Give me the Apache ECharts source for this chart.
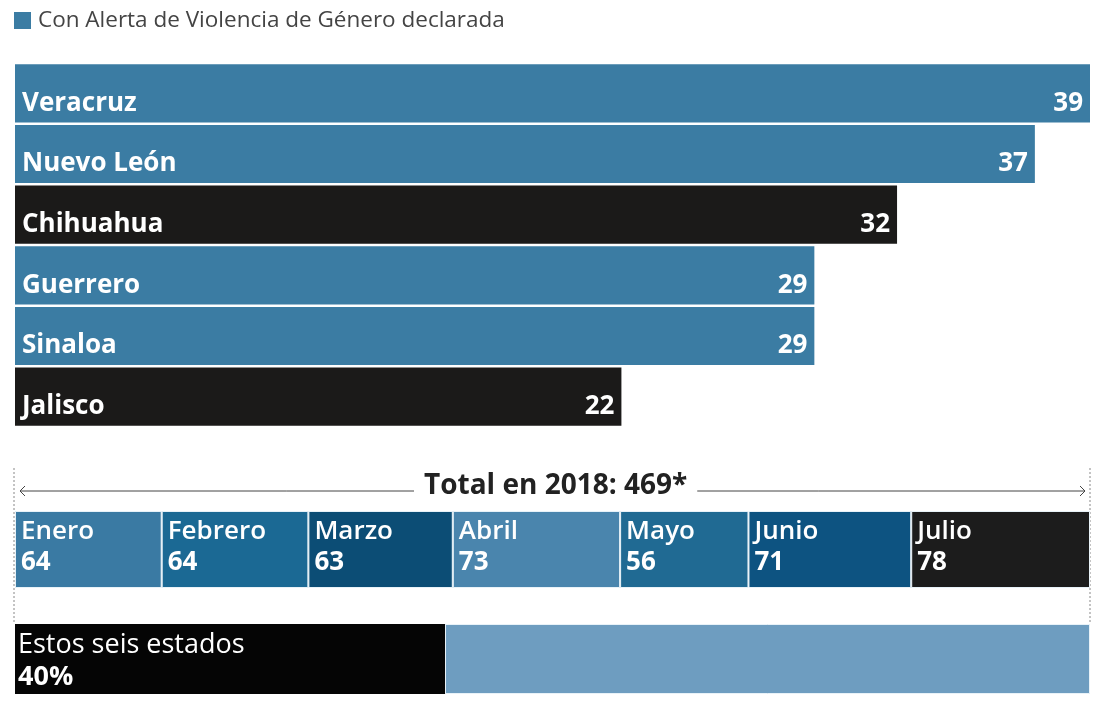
<!DOCTYPE html>
<html>
<head>
<meta charset="utf-8">
<script src="https://cdn.jsdelivr.net/npm/echarts@6/dist/echarts.min.js"></script>
<style>
html,body{margin:0;padding:0;background:#fff;}
#c{width:1102px;height:714px;}
</style>
</head>
<body>
<div id="c"></div>
<script>
// ---- data ----
const legendName = 'Con Alerta de Violencia de Género declarada';
const states = ['Veracruz', 'Nuevo León', 'Chihuahua', 'Guerrero', 'Sinaloa', 'Jalisco'];
const stateValues = [39, 37, 32, 29, 29, 22];
const darkStates = ['Chihuahua', 'Jalisco'];
const totalTitle = 'Total en 2018: 469*';
const months = ['Enero', 'Febrero', 'Marzo', 'Abril', 'Mayo', 'Junio', 'Julio'];
const monthValues = [64, 64, 63, 73, 56, 71, 78];
const shareLabel = 'Estos seis estados';
const shareValues = [40, 60];

// ---- styles ----
const FONT = '"Open Sans", Lato, sans-serif';
const BLUE = '#3b7ca3';
const BLACK = '#1b1a19';
const monthColors = ['#3a7aa3', '#1b6994', '#0c4d75', '#4a85ad', '#206a93', '#0d5381', '#1c1c1c'];
const shareColors = ['#050505', '#6e9dc0'];

const total = monthValues.reduce((a, b) => a + b, 0);

const chart = echarts.init(document.getElementById('c'), null, {renderer: 'canvas'});

const series = [];
// top bars (names)
series.push({
  name: legendName,
  type: 'bar',
  xAxisIndex: 0, yAxisIndex: 0,
  barCategoryGap: '4%',
  itemStyle: {color: BLUE},
  data: stateValues.map((v, i) => ({
    value: v,
    itemStyle: {color: darkStates.includes(states[i]) ? BLACK : BLUE}
  })),
  label: {
    show: true, position: 'insideLeft', distance: 7, offset: [0, 10],
    formatter: '{b}', color: '#fff', fontFamily: FONT, fontWeight: 'bold', fontSize: 26
  },
  silent: true
});
// top bars (values overlay)
series.push({
  name: 'values',
  type: 'bar',
  xAxisIndex: 0, yAxisIndex: 0,
  barCategoryGap: '4%', barGap: '-100%',
  itemStyle: {color: 'rgba(0,0,0,0)'},
  data: stateValues,
  label: {
    show: true, position: 'insideRight', distance: 7, offset: [0, 10],
    formatter: '{c}', color: '#fff', fontFamily: FONT, fontWeight: 'bold', fontSize: 26
  },
  silent: true
});
// months stacked
months.forEach((m, i) => {
  series.push({
    name: m,
    type: 'bar',
    stack: 'months',
    xAxisIndex: 1, yAxisIndex: 1,
    barWidth: '100%',
    data: [monthValues[i]],
    itemStyle: {color: monthColors[i], borderColor: '#e8f2f8', borderWidth: 1},
    label: {
      show: true, position: 'insideTopLeft', distance: 0,
      padding: [5, 0, 0, 6],
      formatter: '{n|' + m + '}\n{v|' + monthValues[i] + '}',
      rich: {
        n: {color: '#fff', fontFamily: FONT, fontSize: 26, fontWeight: 600, lineHeight: 31},
        v: {color: '#fff', fontFamily: FONT, fontSize: 26, fontWeight: 'bold', lineHeight: 31}
      }
    },
    silent: true
  });
});
// share stacked
shareValues.forEach((v, i) => {
  series.push({
    name: i === 0 ? shareLabel : 'resto',
    type: 'bar',
    stack: 'share',
    xAxisIndex: 2, yAxisIndex: 2,
    barWidth: '100%',
    data: [v],
    itemStyle: {color: shareColors[i], borderColor: '#e8f2f8', borderWidth: i === 0 ? 0 : 1},
    label: {
      show: i === 0, position: 'insideTopLeft', distance: 0,
      padding: [5, 0, 0, 3],
      formatter: '{n|' + shareLabel + '}\n{v|' + v + '%}',
      rich: {
        n: {color: '#fff', fontFamily: FONT, fontSize: 27, fontWeight: 'normal', lineHeight: 32},
        v: {color: '#fff', fontFamily: FONT, fontSize: 27, fontWeight: 'bold', lineHeight: 32}
      }
    },
    silent: true
  });
});

const L = 15, R = 12;
const grids = [
  {left: L, right: R, top: 63, height: 364},
  {left: L, right: R, top: 511, height: 77},
  {left: L, right: R, top: 624, height: 70}
];

const option = {
  animation: false,
  backgroundColor: '#fff',
  legend: {
    data: [legendName],
    left: 14, top: 9, padding: 0,
    icon: 'rect', itemWidth: 17, itemHeight: 17, itemGap: 10,
    textStyle: {color: '#444', fontFamily: FONT, fontSize: 22.5, padding: [0, 0, 0, 2]},
    selectedMode: false
  },
  title: {
    text: totalTitle,
    left: 414, top: 472,
    textStyle: {color: '#222', fontFamily: FONT, fontWeight: 'bold', fontSize: 28},
    backgroundColor: '#fff', padding: [0, 10]
  },
  grid: grids,
  xAxis: [
    {gridIndex: 0, type: 'value', min: 0, max: Math.max(...stateValues), show: false},
    {gridIndex: 1, type: 'value', min: 0, max: total, show: false},
    {gridIndex: 2, type: 'value', min: 0, max: 100, show: false}
  ],
  yAxis: [
    {gridIndex: 0, type: 'category', data: states, inverse: true, show: false},
    {gridIndex: 1, type: 'category', data: ['meses'], show: false},
    {gridIndex: 2, type: 'category', data: ['estados'], show: false}
  ],
  series: series
};
chart.setOption(option);

// decorative annotation: dashed bounds and double arrow
function drawDecor() {
  const x0 = chart.convertToPixel({xAxisIndex: 1}, 0);
  const x1 = chart.convertToPixel({xAxisIndex: 1}, total);
  const y = 491;
  const ah = 5;
  chart.setOption({
    graphic: [
      {type: 'line', z: -1, shape: {x1: x0 - 1, y1: 468, x2: x0 - 1, y2: 622}, style: {stroke: '#888', lineWidth: 1, lineDash: [2, 2]}},
      {type: 'line', z: -1, shape: {x1: x1, y1: 468, x2: x1, y2: 622}, style: {stroke: '#888', lineWidth: 1, lineDash: [2, 2]}},
      {type: 'line', z: -2, shape: {x1: x0 + 5, y1: y, x2: x1 - 5, y2: y}, style: {stroke: '#444', lineWidth: 1}},
      {type: 'polyline', z: -2, shape: {points: [[x0 + 5 + ah, y - ah], [x0 + 5, y], [x0 + 5 + ah, y + ah]]}, style: {stroke: '#444', lineWidth: 1, fill: null}},
      {type: 'polyline', z: -2, shape: {points: [[x1 - 5 - ah, y - ah], [x1 - 5, y], [x1 - 5 - ah, y + ah]]}, style: {stroke: '#444', lineWidth: 1, fill: null}}
    ]
  });
}
drawDecor();
</script>
</body>
</html>
